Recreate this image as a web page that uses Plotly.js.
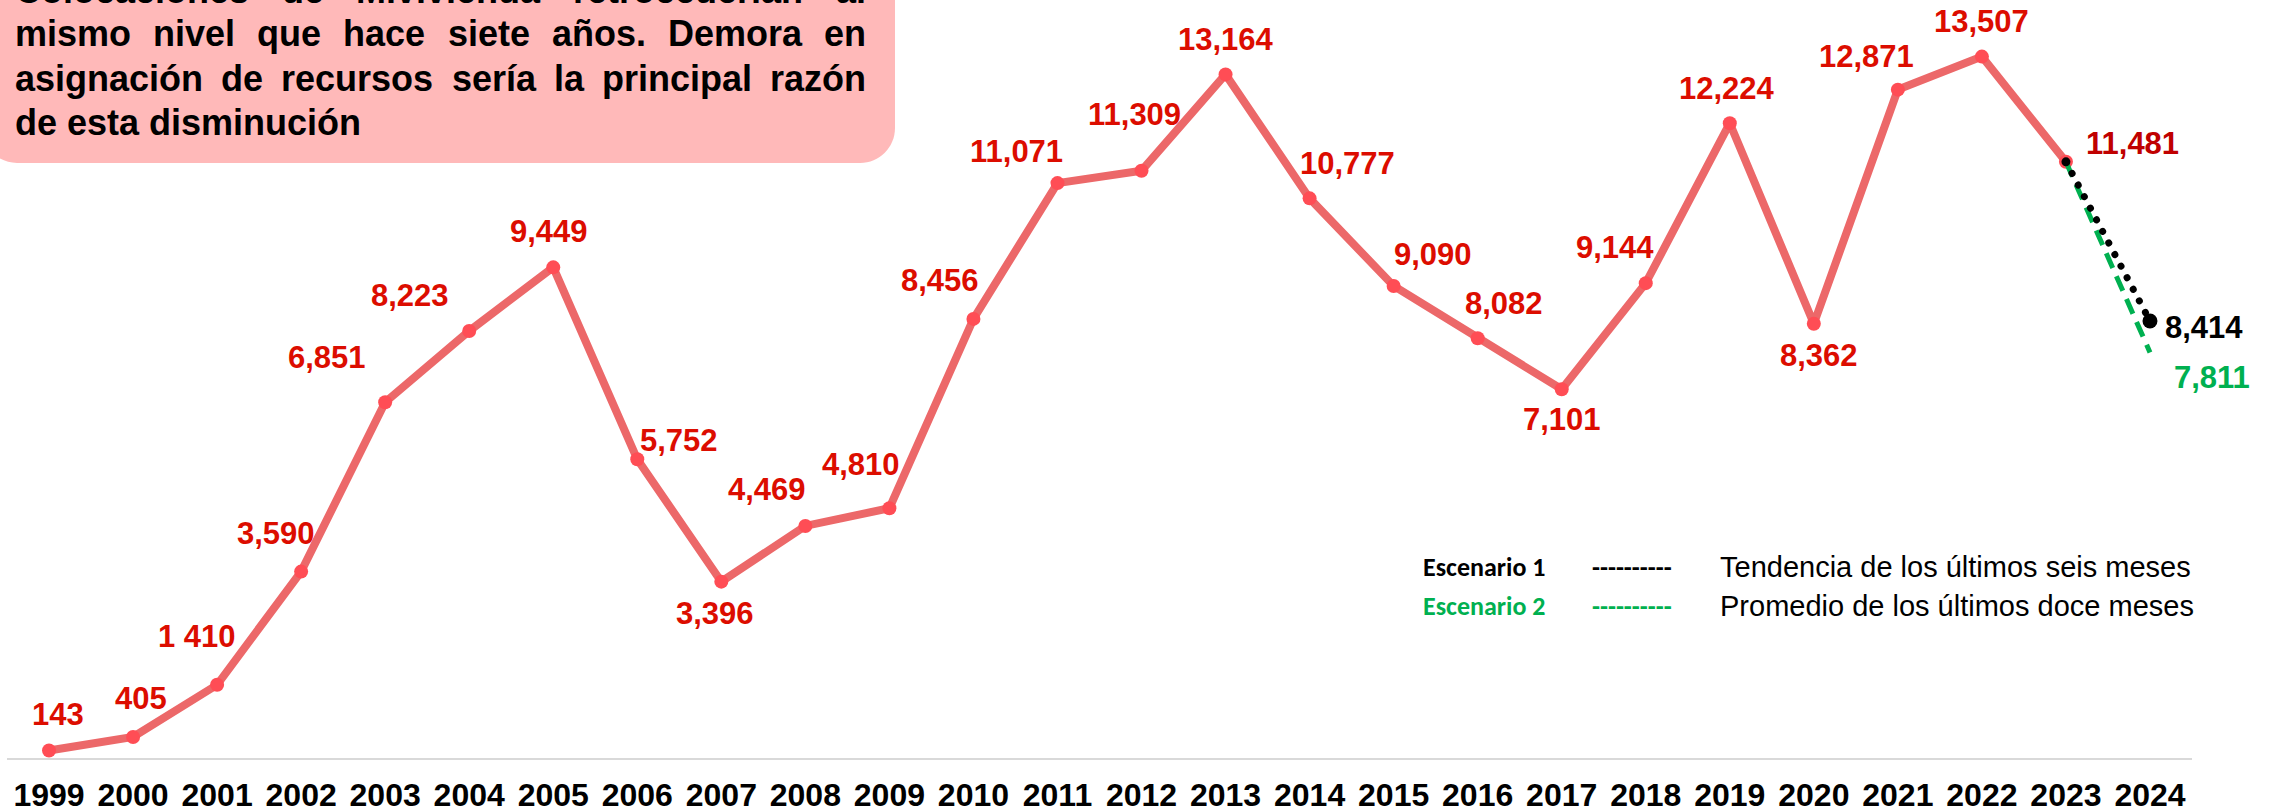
<!DOCTYPE html>
<html><head><meta charset="utf-8">
<script src="https://cdn.plot.ly/plotly-3.0.1.min.js"></script>
<style>html,body{margin:0;padding:0;background:#fff}#chart{width:2274px;height:812px}</style>
</head><body><div id="chart"></div>
<script>
// ---------- DATA ----------
const years = ['1999','2000','2001','2002','2003','2004','2005','2006','2007','2008','2009','2010','2011','2012','2013','2014','2015','2016','2017','2018','2019','2020','2021','2022','2023'];
const values = [143,405,1410,3590,6851,8223,9449,5752,3396,4469,4810,8456,11071,11309,13164,10777,9090,8082,7101,9144,12224,8362,12871,13507,11481];
const valueLabels = ['143','405','1 410','3,590','6,851','8,223','9,449','5,752','3,396','4,469','4,810','8,456','11,071','11,309','13,164','10,777','9,090','8,082','7,101','9,144','12,224','8,362','12,871','13,507','11,481'];
const axisYears = ['1999','2000','2001','2002','2003','2004','2005','2006','2007','2008','2009','2010','2011','2012','2013','2014','2015','2016','2017','2018','2019','2020','2021','2022','2023','2024'];
const projYears = ['2023','2024'];
const scenario1 = [11481, 8414];
const scenario2 = [11481, 7811];
const scenario1Label = '8,414';
const scenario2Label = '7,811';
const boxLines = [
  'Colocaciones de Mivivienda retrocederían al',
  'mismo nivel que hace siete años. Demora en',
  'asignación de recursos sería la principal razón',
  'de esta disminución'
];
const legendNames = ['Escenario 1','Escenario 2'];
const legendDashes = ['----------','----------'];
const legendDescriptions = ['Tendencia de los últimos seis meses','Promedio de los últimos doce meses'];

// ---------- LAYOUT HELPERS ----------
const W = 2274, H = 812;
const M = {l:7, r:82, t:31, b:54};
const PW = W - M.l - M.r, PH = H - M.t - M.b;
const px = x => (x - M.l) / PW;
const py = y => (H - M.b - y) / PH;
const catIndex = y => axisYears.indexOf(y);

// label offsets in pixels (dx right, dy down) relative to each point
const labelOffsets = [[9,-36],[8,-38],[-20,-48],[-25,-38],[-58,-45],[-59,-35],[-4,-36],[42,-19],[-6,32],[-38,-36],[-28,-44],[-33,-38],[-41,-32],[-7,-56],[0,-35],[38,-35],[39,-31],[26,-35],[0,30],[-31,-36],[-3,-35],[5,32],[-31,-33],[0,-35],[67,-18]];

const labelColor = '#DC0D00';
const FONT = 'Liberation Sans, Arial, sans-serif';
const annotations = [];
values.forEach((v,i) => {
  annotations.push({
    x: catIndex(years[i]), y: v, xref:'x', yref:'y', text: valueLabels[i], showarrow:false,
    xanchor:'center', yanchor:'middle',
    xshift: labelOffsets[i][0], yshift: -labelOffsets[i][1],
    font:{family:FONT, size:31, weight:'bold', color: i === values.length-1 ? '#C00000' : labelColor}
  });
});
annotations.push({x:catIndex(projYears[1]), y:scenario1[1], xref:'x', yref:'y', text:scenario1Label, showarrow:false,
  xanchor:'center', yanchor:'middle', xshift:54, yshift:-6,
  font:{family:FONT, size:31, weight:'bold', color:'#000000'}});
annotations.push({x:catIndex(projYears[1]), y:scenario2[1], xref:'x', yref:'y', text:scenario2Label, showarrow:false,
  xanchor:'center', yanchor:'middle', xshift:62, yshift:-25,
  font:{family:FONT, size:31, weight:'bold', color:'#00B050'}});

// Box text, justified word by word
const boxFontSize = 36;
const canvas = document.createElement('canvas');
const ctx = canvas.getContext('2d');
ctx.font = 'bold ' + boxFontSize + 'px ' + FONT;
const boxLeft = 14, boxRight = 865;
const baselines = [3, 47, 91, 135];
boxLines.forEach((line, li) => {
  const words = line.split(' ');
  const widths = words.map(w => ctx.measureText(w).width);
  const total = widths.reduce((a,b)=>a+b,0);
  const justify = li < boxLines.length - 1;
  const gap = justify ? (boxRight - boxLeft - total) / (words.length - 1) : ctx.measureText(' ').width;
  let x = boxLeft;
  words.forEach((w, wi) => {
    annotations.push({x: px(x), y: py(baselines[li] - 13), xref:'paper', yref:'paper', text: w, showarrow:false,
      xanchor:'left', yanchor:'middle', borderpad:0,
      font:{family:FONT, size:boxFontSize, weight:'bold', color:'#000000'}});
    x += widths[wi] + gap;
  });
});

// Legend-like note
const legendY = [567, 606];
const legendColors = ['#000000','#00B050'];
legendNames.forEach((n,i) => {
  annotations.push({x:px(1484), y:py(legendY[i]), xref:'paper', yref:'paper', text:n, showarrow:false,
    xanchor:'center', yanchor:'middle', font:{family:'Carlito, Lato, sans-serif', size:26, weight:'bold', color:legendColors[i]}});
  annotations.push({x:px(1632), y:py(legendY[i]), xref:'paper', yref:'paper', text:legendDashes[i], showarrow:false,
    xanchor:'center', yanchor:'middle', font:{family:'Carlito, Lato, sans-serif', size:26, weight:'bold', color:legendColors[i]}});
  annotations.push({x:px(1718), y:py(legendY[i]), xref:'paper', yref:'paper', text:legendDescriptions[i], showarrow:false,
    xanchor:'left', yanchor:'middle', font:{family:FONT, size:29, color:'#000000'}});
});

// Rounded pink box path (pixel coords -> paper)
function boxPath(x0, y0, x1, y1, r) {
  const k = 0.5523 * r;
  const P = (x,y) => px(x) + ',' + py(y);
  return 'M ' + P(x0, y0) +
    ' L ' + P(x1, y0) +
    ' L ' + P(x1, y1 - r) +
    ' C ' + P(x1, y1 - r + k) + ' ' + P(x1 - r + k, y1) + ' ' + P(x1 - r, y1) +
    ' L ' + P(x0 + r, y1) +
    ' C ' + P(x0 + r - k, y1) + ' ' + P(x0, y1 - r + k) + ' ' + P(x0, y1 - r) +
    ' Z';
}
const shapes = [{type:'path', xref:'paper', yref:'paper', path: boxPath(-18, -60, 895, 163, 35),
  fillcolor:'#FFB9B9', line:{width:0}, layer:'below'}];

const traces = [
  {x: years, y: values, type:'scatter', mode:'lines+markers',
   line:{color:'#EC6869', width:8}, marker:{color:'#FF4D55', size:14}, hoverinfo:'skip'},
  {x: projYears, y: scenario2, type:'scatter', mode:'lines',
   line:{color:'#00B050', width:5, dash:'16px,9px'}, hoverinfo:'skip'},
  {x: projYears, y: scenario1, type:'scatter', mode:'lines+markers',
   line:{color:'#000000', width:7}, marker:{color:'#000000', opacity:1, size:[9,15], line:{width:0}}, hoverinfo:'skip'}
];

const layout = {
  width: W, height: H, margin: M,
  paper_bgcolor:'#ffffff', plot_bgcolor:'#ffffff',
  showlegend:false,
  xaxis:{type:'category', categoryorder:'array', categoryarray: axisYears, tickvals: axisYears,
    range:[-0.5, axisYears.length - 0.5], showgrid:false, zeroline:false,
    showline:true, linecolor:'#D9D9D9', linewidth:2, ticks:'', ticklabelstandoff:8,
    tickfont:{family:FONT, size:32, weight:'bold', color:'#000000'}, fixedrange:true},
  yaxis:{range:[0,14000], visible:false, showgrid:false, zeroline:false, fixedrange:true},
  annotations: annotations,
  shapes: shapes
};

Plotly.newPlot('chart', traces, layout, {displayModeBar:false, staticPlot:true}).then(() => {
  const tr = document.querySelectorAll('.scatterlayer .trace');
  if (tr[2]) {
    const p = tr[2].querySelector('path.js-line');
    if (p) { p.style.strokeDasharray = '0.1px,13px'; p.style.strokeLinecap = 'round'; }
    tr[2].querySelectorAll('path.point').forEach(pt => { pt.style.fill = '#000000'; pt.style.opacity = '1'; });
  }
});
</script></body></html>
